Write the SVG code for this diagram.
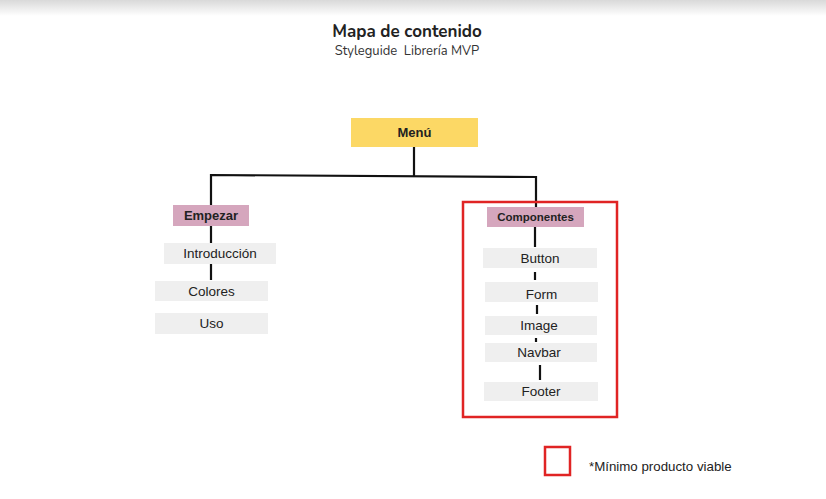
<svg xmlns="http://www.w3.org/2000/svg" width="826" height="499" viewBox="0 0 826 499">
<defs>
<linearGradient id="topband" x1="0" y1="0" x2="0" y2="1">
<stop offset="0" stop-color="#d9d9d9"/>
<stop offset="1" stop-color="#ffffff"/>
</linearGradient>
<style>
.item{fill:#efefef}
.cat{fill:#d5a6bd}
.lbl{font-family:"Liberation Sans",Arial,sans-serif;font-size:13.5px;fill:#222;text-anchor:middle}
.bold{font-weight:bold;font-size:13px}
.conn{stroke:#111;stroke-width:2.2;fill:none}
</style>
</defs>
<rect x="0" y="0" width="826" height="499" fill="#ffffff"/>
<rect x="0" y="0" width="826" height="16" fill="url(#topband)"/>
<g id="title">
<text x="407" y="37" font-family="Nunito,'Open Sans',sans-serif" font-size="17" font-weight="bold" fill="#222" text-anchor="middle">Mapa de contenido</text>
<text x="407" y="55" font-family="Nunito,'Open Sans',sans-serif" font-size="13" fill="#333" text-anchor="middle" style="white-space:pre">Styleguide  Librería MVP</text>
</g>
<g id="connectors">
<path class="conn" d="M414 147 V176"/>
<path class="conn" d="M211 205 V175 L536 177 V207"/>
<path class="conn" d="M211 226 V243"/>
<path class="conn" d="M211 264 V280"/>
<path class="conn" d="M535 227 V247"/>
<path class="conn" d="M535 272 V280"/>
<path class="conn" d="M537 305 V314"/>
<path class="conn" d="M536 338 V342"/>
<path class="conn" d="M540 365 V380"/>
</g>
<g id="menu">
<rect x="351" y="118" width="127" height="29" fill="#fcd865"/>
<text class="lbl bold" x="414.5" y="137">Menú</text>
</g>
<g id="empezar">
<rect class="cat" x="173" y="205" width="76" height="21"/>
<text class="lbl bold" x="211" y="220">Empezar</text>
</g>
<g id="introduccion">
<rect class="item" x="164" y="243" width="112" height="21"/>
<text class="lbl" x="220" y="258">Introducción</text>
</g>
<g id="colores">
<rect class="item" x="155" y="281" width="113" height="20"/>
<text class="lbl" x="211.5" y="296">Colores</text>
</g>
<g id="uso">
<rect class="item" x="155" y="313" width="113" height="21"/>
<text class="lbl" x="211.5" y="328">Uso</text>
</g>
<g id="mvp-frame">
<rect x="463" y="202" width="154" height="215" fill="none" stroke="#e02424" stroke-width="2.5"/>
</g>
<g id="componentes">
<rect class="cat" x="487" y="207" width="97" height="20"/>
<text class="lbl bold" x="535.5" y="221" style="font-size:11.5px">Componentes</text>
</g>
<g id="button">
<rect class="item" x="483" y="248" width="114" height="20"/>
<text class="lbl" x="540" y="263">Button</text>
</g>
<g id="form">
<rect class="item" x="485" y="282" width="113" height="20"/>
<text class="lbl" x="541.5" y="299">Form</text>
</g>
<g id="image">
<rect class="item" x="485" y="316" width="112" height="19"/>
<text class="lbl" x="539" y="330">Image</text>
</g>
<g id="navbar">
<rect class="item" x="485" y="343" width="112" height="19"/>
<text class="lbl" x="539" y="357">Navbar</text>
</g>
<g id="footer">
<rect class="item" x="484" y="382" width="114" height="19"/>
<text class="lbl" x="541" y="396">Footer</text>
</g>
<g id="legend">
<rect x="545" y="447" width="25" height="28" fill="none" stroke="#e02424" stroke-width="2.5"/>
<text x="589" y="471" font-family="'Liberation Sans',Arial,sans-serif" font-size="13.3" fill="#222">*Mínimo producto viable</text>
</g>
</svg>
